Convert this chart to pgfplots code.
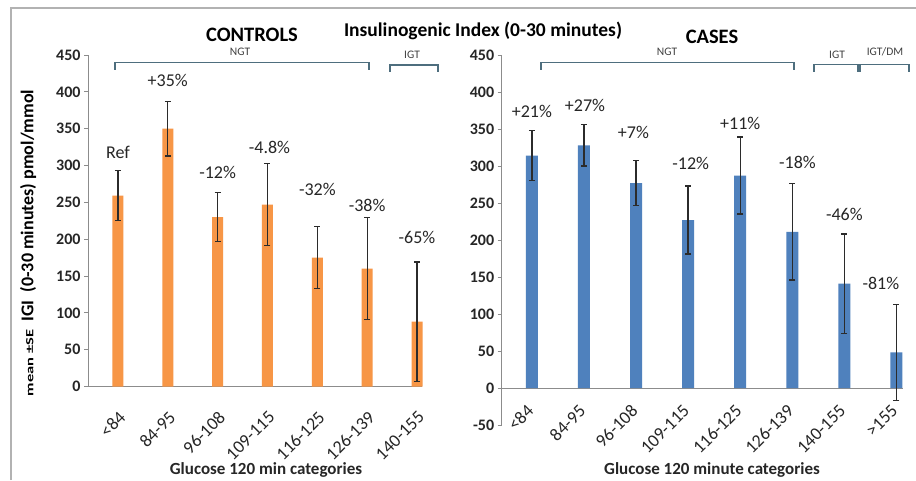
\documentclass[border=0pt]{standalone}
\usepackage{fontspec}
\setmainfont{Carlito}
\usepackage{pgfplots}
\pgfplotsset{compat=1.18}
\usepackage{pgfplotstable}
\definecolor{barorange}{HTML}{F79646}
\definecolor{barblue}{HTML}{4F81BD}
\definecolor{axgray}{HTML}{8C8C8C}
\definecolor{brk}{HTML}{4E6E7E}
\definecolor{errc}{HTML}{2B2B2B}

\pgfplotstableread{
x y e
0 259 34
1 350 37
2 230 33
3 247 56
4 175 42
5 160 69
6 88 81
}\controlsdata

\pgfplotstableread{
x y e
0 314 34
1 328 28
2 277 30
3 227 46
4 287 52
5 211 65
6 141 67
7 48 65
}\casesdata

\pgfplotsset{common/.style={
  scale only axis, anchor=south west,
  axis y line*=left, axis line style={draw=axgray,line width=0.9pt,-},
  ytick style={draw=axgray,line width=0.9pt}, major tick length=4pt, tick align=outside,
  xtick style={draw=none},
  yticklabel style={font=\bfseries\fontsize{16}{18}\selectfont, text=black!85},
  /pgf/number format/assume math mode=true,
  xtick=data,
  ybar, clip=false,
}}
\pgfplotsset{errs/.style={error bars/.cd, y dir=both, y explicit,
  error bar style={line width=1.3pt, errc},
  error mark options={rotate=90, mark size=3pt, line width=1.3pt, errc}}}

\begin{document}
\begin{tikzpicture}
\useasboundingbox (0pt,0pt) rectangle (916pt,480pt);
\fill[white] (0pt,0pt) rectangle (916pt,480pt);
\draw[black!30, line width=1.5pt] (11pt,0pt) -- (11pt,472pt) -- (916pt,472pt);

\begin{axis}[common, axis x line*=bottom, at={(88pt,93.5pt)}, width=334pt, height=331.5pt,
  xmin=-0.6, xmax=6.1, ymin=0, ymax=450, ytick={0,50,...,450}, bar width=11pt,
  xticklabels={<84,84-95,96-108,109-115,116-125,126-139,140-155},
  xticklabel style={font=\fontsize{18}{20}\selectfont, text=black!85, xshift=0pt, yshift=-18pt, rotate=45, anchor=north east, inner sep=1pt}]
\addplot[fill=barorange, draw=none, errs] table[x=x,y=y,y error=e]{\controlsdata};
\begin{scope}[font=\fontsize{18}{20}\selectfont, text=black!85]
\node at (axis cs:0,318) {Ref};
\node at (axis cs:1,415) {+35\%};
\node at (axis cs:2,291) {-12\%};
\node at (axis cs:3.04,325) {-4.8\%};
\node at (axis cs:4,267) {-32\%};
\node at (axis cs:5,246) {-38\%};
\node at (axis cs:6,202) {-65\%};
\end{scope}
\end{axis}

\begin{axis}[common, axis x line*=middle, at={(501.7pt,55pt)}, width=401pt, height=370pt,
  xmin=-0.58, xmax=7.12, ymin=-50, ymax=450, ytick={-50,0,...,450}, bar width=12pt,
  xticklabels={<84,84-95,96-108,109-115,116-125,126-139,140-155,>155},
  xticklabel style={font=\fontsize{18}{20}\selectfont, text=black!85, xshift=-6pt, yshift=-10pt, rotate=45, anchor=north east, inner sep=1pt}]
\addplot[fill=barblue, draw=none, errs] table[x=x,y=y,y error=e]{\casesdata};
\begin{scope}[font=\fontsize{18}{20}\selectfont, text=black!85]
\node at (axis cs:0,374) {+21\%};
\node at (axis cs:1.02,382) {+27\%};
\node at (axis cs:1.95,345) {+7\%};
\node at (axis cs:3.05,303) {-12\%};
\node at (axis cs:4,357) {+11\%};
\node at (axis cs:5.1,305) {-18\%};
\node at (axis cs:6,235) {-46\%};
\node at (axis cs:6.7,141) {-81\%};
\end{scope}
\end{axis}

% titles
\node[font=\bfseries\fontsize{19.5}{22}\selectfont] at (483pt,449pt) {Insulinogenic Index (0-30 minutes)};
\node[font=\bfseries\fontsize{20.5}{23}\selectfont] at (252pt,445pt) {CONTROLS};
\node[font=\bfseries\fontsize{20.5}{23}\selectfont] at (712pt,443pt) {CASES};
\node[font=\bfseries\fontsize{17}{19}\selectfont, text=black!85] at (266pt,10pt) {Glucose 120 min categories};
\node[font=\bfseries\fontsize{17}{19}\selectfont, text=black!85] at (712pt,10pt) {Glucose 120 minute categories};
\node[rotate=90, font=\bfseries\fontsize{18}{20}\selectfont] at (28pt,237pt) {\scalebox{1.5}[1]{\fontsize{11}{12}\selectfont mean ±SE}\ \ IGI\ \ (0-30 minutes) pmol/mmol};

% brackets
\begin{scope}[draw=brk, line width=1.3pt]
\draw (115pt,410pt) -- (115pt,417.5pt) -- (369pt,417.5pt) -- (369pt,410pt);
\draw (390pt,408pt) -- (390pt,415pt) -- (438pt,415pt) -- (438pt,408pt);
\draw (541pt,410pt) -- (541pt,417.5pt) -- (794pt,417.5pt) -- (794pt,410pt);
\draw (814pt,408pt) -- (814pt,415.7pt) -- (858pt,415.7pt) -- (858pt,408pt);
\draw (860pt,408pt) -- (860pt,415.7pt) -- (909pt,415.7pt) -- (909pt,408pt);
\end{scope}
\begin{scope}[font=\fontsize{11.5}{13}\selectfont, text=black!75]
\node at (240pt,428pt) {NGT};
\node at (412pt,425pt) {IGT};
\node at (667pt,428pt) {NGT};
\node at (837pt,425pt) {IGT};
\node at (885pt,428pt) {IGT/DM};
\end{scope}
\end{tikzpicture}
\end{document}
